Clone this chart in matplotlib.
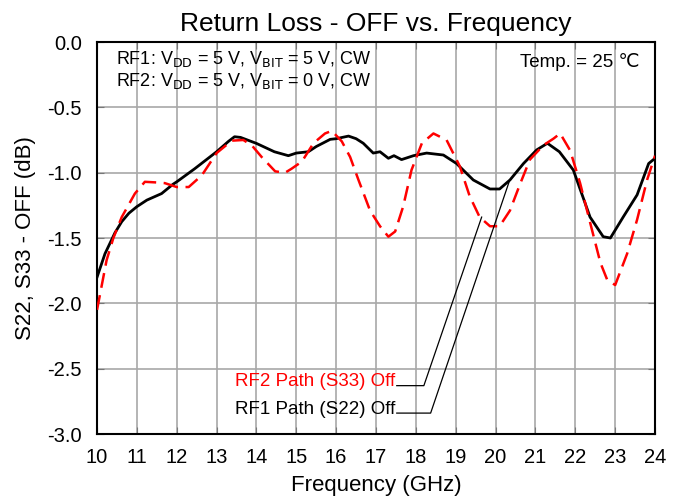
import numpy as np
import matplotlib
matplotlib.use("Agg")
import matplotlib.pyplot as plt

plt.rcParams['font.family'] = ['Liberation Sans', 'DejaVu Sans']

# S22 (RF1 path)
freq_s22 = [10.0, 10.2, 10.45, 10.62, 10.8, 11.0, 11.25, 11.62, 11.9, 12.0, 12.45, 13.0, 13.3, 13.45,
            13.6, 14.0, 14.45, 14.8, 15.0, 15.3, 15.5, 15.85, 16.0, 16.31, 16.5, 16.68, 16.93,
            17.1, 17.31, 17.45, 17.64, 17.94, 18.27, 18.69, 19.02, 19.44, 19.86, 20.1, 20.36,
            20.7, 21.03, 21.3, 21.6, 21.95, 22.37, 22.7, 22.88, 23.2, 23.55, 23.84, 24.0]
s22 = [-1.80, -1.62, -1.46, -1.375, -1.31, -1.26, -1.21, -1.16, -1.09, -1.07, -0.97, -0.84, -0.76,
       -0.725, -0.73, -0.776, -0.84, -0.87, -0.85, -0.84, -0.80, -0.745, -0.74, -0.72, -0.74,
       -0.775, -0.85, -0.84, -0.89, -0.87, -0.90, -0.87, -0.85, -0.865, -0.93, -1.056, -1.125,
       -1.125, -1.056, -0.93, -0.826, -0.775, -0.84, -0.98, -1.34, -1.49, -1.50, -1.34, -1.17,
       -0.93, -0.89]

# S33 (RF2 path)
freq_s33 = [10.0, 10.24, 10.41, 10.62, 10.95, 11.2, 11.5, 11.7, 12.0, 12.3, 12.63, 13.0, 13.38,
            13.67, 13.88, 14.13, 14.47, 14.72, 14.88, 15.14, 15.43, 15.72, 15.89, 16.14, 16.35,
            16.56, 16.85, 17.1, 17.31, 17.48, 17.68, 17.89, 18.15, 18.44, 18.77, 19.1, 19.35,
            19.6, 19.86, 20.1, 20.36, 20.61, 20.86, 21.2, 21.45, 21.62, 21.87, 22.12, 22.42,
            22.63, 22.8, 23.0, 23.3, 23.55, 23.8, 24.0]
s33 = [-2.05, -1.67, -1.50, -1.34, -1.16, -1.07, -1.075, -1.08, -1.11, -1.11, -1.02, -0.85, -0.755,
       -0.75, -0.79, -0.88, -0.99, -1.0, -0.97, -0.915, -0.775, -0.70, -0.68, -0.76, -0.88,
       -1.056, -1.29, -1.41, -1.49, -1.45, -1.26, -0.98, -0.775, -0.70, -0.75, -0.95, -1.18,
       -1.34, -1.41, -1.41, -1.29, -1.09, -0.90, -0.79, -0.74, -0.70, -0.83, -1.08, -1.44,
       -1.69, -1.82, -1.86, -1.62, -1.36, -1.056, -0.87]

x_ticks = list(range(10, 25))
y_ticks = [0.0, -0.5, -1.0, -1.5, -2.0, -2.5, -3.0]

fig = plt.figure(figsize=(6.79, 5.0), dpi=100)
ax = fig.add_axes([0.1429, 0.132, 0.8218, 0.784])

ax.plot(freq_s22, s22, color='black', lw=2.0, zorder=3)
ax.plot(freq_s33, s33, color='red', lw=1.8, dashes=(6, 3), zorder=3)

ax.set_xlim(10, 24)
ax.set_ylim(-3.0, 0.0)
ax.set_xticks(x_ticks)
ax.set_yticks(y_ticks)
ax.set_yticklabels([f"{v:.1f}" for v in y_ticks])
ax.grid(True, color='#a8a8a8', lw=1.2)
ax.set_axisbelow(True)
ax.tick_params(direction='in', top=True, right=True, length=5, labelsize=14.5, color='#777777')
ax.tick_params(axis='x', pad=10)
ax.tick_params(axis='y', pad=11)
for s in ax.spines.values():
    s.set_linewidth(1.5)

ax.set_title("Return Loss - OFF vs. Frequency", fontsize=19, pad=8)
ax.set_xlabel("Frequency (GHz)", fontsize=16, labelpad=6)
ax.set_ylabel("S22, S33 - OFF (dB)", fontsize=16, labelpad=8)

ax.text(10.48, -0.215, "RF1: V$_{\\rm DD}$ = 5 V, V$_{\\rm BIT}$ = 5 V, CW\n"
        "RF2: V$_{\\rm DD}$ = 5 V, V$_{\\rm BIT}$ = 0 V, CW",
        fontsize=13, va='center', ha='left', linespacing=1.1)
ax.text(23.62, -0.15, "Temp. = 25 \u2103", fontsize=13.5, va='center', ha='right')

# leader labels
ax.text(17.48, -2.595, "RF2 Path (S33) Off", color='red', fontsize=13.5, ha='right', va='center')
ax.text(17.48, -2.81, "RF1 Path (S22) Off", color='black', fontsize=13.5, ha='right', va='center')
lead_s33 = ([17.52, 18.2, 19.65], [-2.63, -2.63, -1.34])
lead_s22 = ([17.52, 18.37, 20.35], [-2.84, -2.84, -1.06])
ax.plot(*lead_s33, color='black', lw=0.9, zorder=4)
ax.plot(*lead_s22, color='black', lw=0.9, zorder=4)

fig.savefig("out.png", dpi=100)
